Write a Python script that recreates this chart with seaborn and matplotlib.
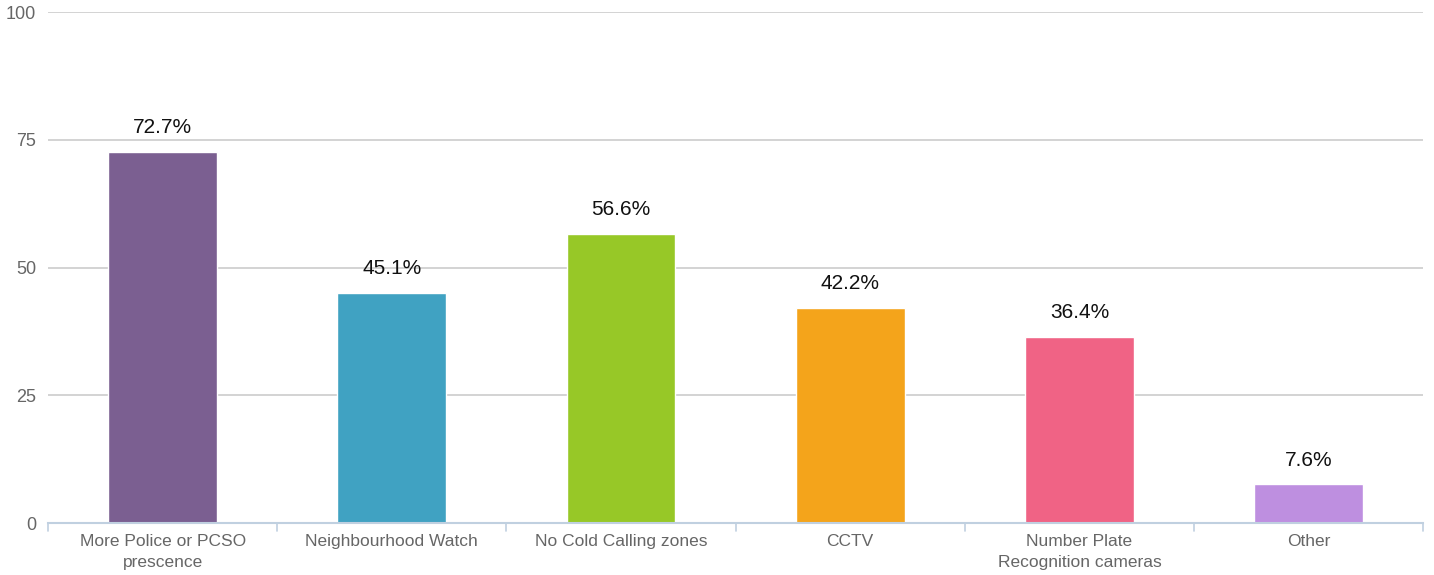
import matplotlib
matplotlib.use("Agg")
import matplotlib.pyplot as plt
import pandas as pd
import seaborn as sns

# data
categories = ["More Police or PCSO\nprescence", "Neighbourhood Watch", "No Cold Calling zones",
              "CCTV", "Number Plate\nRecognition cameras", "Other"]
values = [72.7, 45.1, 56.6, 42.2, 36.4, 7.6]
colors = ["#7b5f91", "#40a2c2", "#97c827", "#f4a41b", "#f06385", "#be8fe0"]
yticks = [0, 25, 50, 75, 100]

df = pd.DataFrame({"category": categories, "value": values})

sns.set_style("white")
plt.rcParams["font.family"] = ["Liberation Sans", "DejaVu Sans"]

fig, ax = plt.subplots(figsize=(14.34, 5.75), dpi=100)
fig.subplots_adjust(left=0.0335, right=0.9925, top=0.979, bottom=0.09)

sns.barplot(data=df, x="category", y="value", hue="category", palette=colors,
            legend=False, width=0.475, saturation=1, ax=ax)

ax.set_ylim(0, 100)
ax.set_xlim(-0.5, len(categories) - 0.5)
ax.set_yticks(yticks)
ax.set_yticklabels([str(t) for t in yticks], color="#666666", fontsize=13)
ax.yaxis.grid(True, color="#cccccc", linewidth=1.2)
ax.set_axisbelow(True)

# value labels
for i, v in enumerate(values):
    ax.text(i, v + 2.9, f"{v}%", ha="center", va="bottom", fontsize=15, color="#111111")

# category labels and separator ticks
ax.set_xticks(range(len(categories)))
ax.set_xticklabels(categories, color="#666666", fontsize=12.5, linespacing=1.5)
ax.tick_params(axis="x", length=0, pad=8)
ax.tick_params(axis="y", length=0, pad=8.5)
for i in range(len(categories) + 1):
    ax.plot([i - 0.5, i - 0.5], [0, -1.6], color="#c0d0e0", linewidth=1.2, clip_on=False)

for s in ["top", "right", "left"]:
    ax.spines[s].set_visible(False)
ax.spines["bottom"].set_color("#c0d0e0")
ax.spines["bottom"].set_linewidth(1.5)
ax.set_xlabel("")
ax.set_ylabel("")

fig.savefig("out.png", dpi=100)
